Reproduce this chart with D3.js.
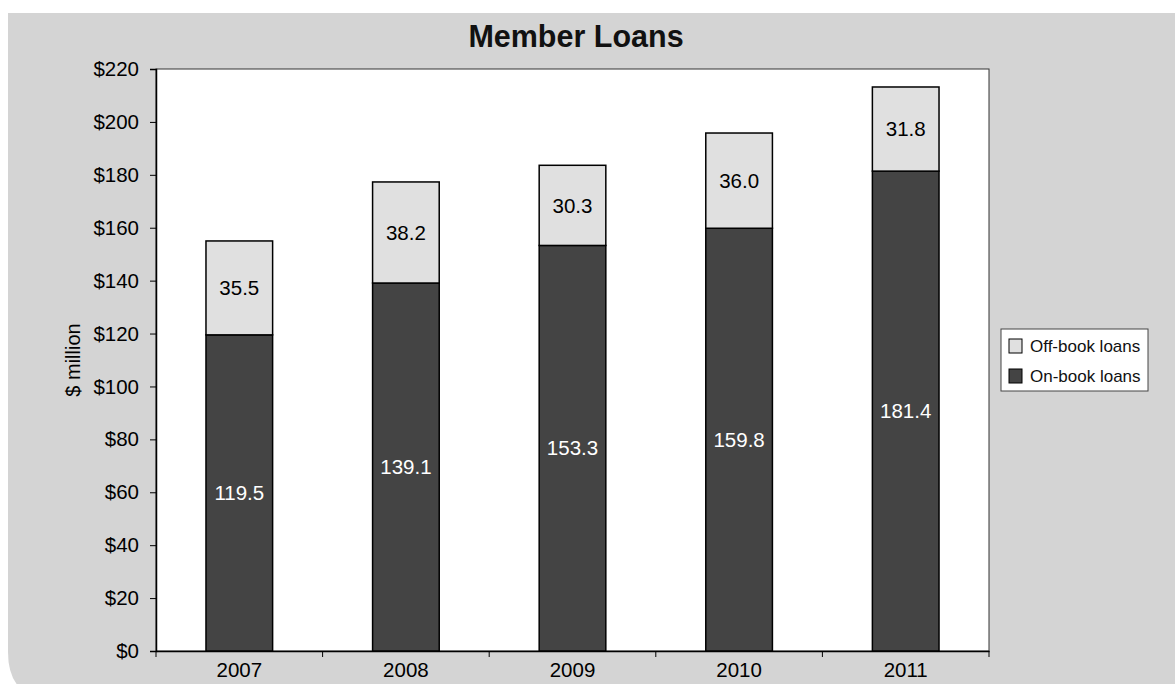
<!DOCTYPE html>
<html>
<head>
<meta charset="utf-8">
<script src="https://cdn.jsdelivr.net/npm/d3@7"></script>
<style>
  body { margin: 0; background: #fff; }
  svg { display: block; font-family: "Liberation Sans", Arial, Helvetica, sans-serif; }
</style>
</head>
<body>
<div id="chart"></div>
<script>
// data
var years = ["2007", "2008", "2009", "2010", "2011"];
var onBook = [119.5, 139.1, 153.3, 159.8, 181.4];
var offBook = [35.5, 38.2, 30.3, 36.0, 31.8];
var yTicks = [0, 20, 40, 60, 80, 100, 120, 140, 160, 180, 200, 220];
var seriesNames = ["Off-book loans", "On-book loans"];

var W = 1175, H = 684;
var plot = {left: 156, right: 989, top: 69, bottom: 651};
var fs = 20.5;

var svg = d3.select("#chart").append("svg")
  .attr("width", W).attr("height", H);

// grey panel, square top-left, rounded top-right and bottom-left
var px0 = 8, py0 = 13, px1 = 1215, py1 = 700, rTR = 32, rBL = 48;
svg.append("path")
  .attr("d", "M" + px0 + "," + py0 +
    " L" + (px1 - rTR) + "," + py0 +
    " Q" + px1 + "," + py0 + " " + px1 + "," + (py0 + rTR) +
    " L" + px1 + "," + py1 +
    " L" + (px0 + rBL) + "," + py1 +
    " Q" + px0 + "," + py1 + " " + px0 + "," + (py1 - rBL) + " Z")
  .attr("fill", "#d4d4d4");

// plot area
svg.append("rect")
  .attr("x", plot.left).attr("y", plot.top)
  .attr("width", plot.right - plot.left).attr("height", plot.bottom - plot.top)
  .attr("fill", "#fff").attr("stroke", "#333").attr("stroke-width", 1);

var x = d3.scaleBand()
  .domain(years)
  .range([plot.left, plot.right])
  .paddingInner(0.6)
  .paddingOuter(0.3);

var y = d3.scaleLinear()
  .domain([0, 220])
  .range([plot.bottom, plot.top]);

// title
svg.append("text")
  .attr("x", 576)
  .attr("y", 47)
  .attr("text-anchor", "middle")
  .attr("font-size", 30.5)
  .attr("font-weight", "bold")
  .attr("fill", "#111")
  .text("Member Loans");

// y axis
var yAxis = svg.append("g")
  .attr("transform", "translate(" + plot.left + ",0)")
  .call(d3.axisLeft(y).tickValues(yTicks).tickSize(6).tickPadding(11)
    .tickFormat(function(d) { return "$" + d; }));
yAxis.select(".domain").attr("stroke", "#000").attr("stroke-width", 1.5);
yAxis.selectAll(".tick line").attr("stroke", "#000");
yAxis.selectAll(".tick text").attr("font-size", fs).attr("fill", "#000")
  .attr("font-family", "Liberation Sans, Arial, sans-serif");

svg.append("text")
  .attr("transform", "translate(73," + ((plot.top + plot.bottom) / 2) + ") rotate(-90)")
  .attr("text-anchor", "middle")
  .attr("dy", "0.35em")
  .attr("font-size", 20)
  .attr("fill", "#000")
  .text("$ million");

// x axis: labels centred, tick marks at category boundaries
var xAxis = svg.append("g")
  .attr("transform", "translate(0," + plot.bottom + ")")
  .call(d3.axisBottom(x).tickSize(0).tickPadding(11));
xAxis.select(".domain").attr("stroke", "#000").attr("stroke-width", 1.5);
xAxis.selectAll(".tick text").attr("font-size", fs).attr("fill", "#000")
  .attr("font-family", "Liberation Sans, Arial, sans-serif");

var step = x.step();
var bounds = years.map(function(d) { return x(d) - step * 0.3; });
bounds.push(x(years[years.length - 1]) + x.bandwidth() + step * 0.3);
svg.append("g").selectAll("line")
  .data(bounds)
  .enter().append("line")
  .attr("x1", function(d) { return d; })
  .attr("x2", function(d) { return d; })
  .attr("y1", plot.bottom)
  .attr("y2", plot.bottom + 6)
  .attr("stroke", "#000");

// bars
var rows = years.map(function(yr, i) {
  return {year: yr, on: onBook[i], off: offBook[i]};
});

var colOn = "#444444", colOff = "#e0e0e0";

var g = svg.append("g");
g.selectAll(".on")
  .data(rows)
  .enter().append("rect")
  .attr("class", "on")
  .attr("x", function(d) { return x(d.year); })
  .attr("y", function(d) { return y(d.on); })
  .attr("width", x.bandwidth())
  .attr("height", function(d) { return y(0) - y(d.on); })
  .attr("fill", colOn)
  .attr("stroke", "#000").attr("stroke-width", 1.5);

g.selectAll(".off")
  .data(rows)
  .enter().append("rect")
  .attr("class", "off")
  .attr("x", function(d) { return x(d.year); })
  .attr("y", function(d) { return y(d.on + d.off); })
  .attr("width", x.bandwidth())
  .attr("height", function(d) { return y(d.on) - y(d.on + d.off); })
  .attr("fill", colOff)
  .attr("stroke", "#000").attr("stroke-width", 1.5);

// value labels
g.selectAll(".lblOn")
  .data(rows)
  .enter().append("text")
  .attr("x", function(d) { return x(d.year) + x.bandwidth() / 2; })
  .attr("y", function(d) { return y(d.on / 2); })
  .attr("dy", "0.35em")
  .attr("text-anchor", "middle")
  .attr("font-size", fs)
  .attr("fill", "#fff")
  .text(function(d) { return d.on.toFixed(1); });

g.selectAll(".lblOff")
  .data(rows)
  .enter().append("text")
  .attr("x", function(d) { return x(d.year) + x.bandwidth() / 2; })
  .attr("y", function(d) { return y(d.on + d.off / 2); })
  .attr("dy", "0.35em")
  .attr("text-anchor", "middle")
  .attr("font-size", fs)
  .attr("fill", "#000")
  .text(function(d) { return d.off.toFixed(1); });

// legend
var leg = svg.append("g").attr("transform", "translate(1001,329)");
leg.append("rect")
  .attr("width", 147).attr("height", 62)
  .attr("fill", "#fff").attr("stroke", "#444").attr("stroke-width", 1);
var legCols = [colOff, colOn];
seriesNames.forEach(function(name, i) {
  leg.append("rect")
    .attr("x", 8).attr("y", 10 + i * 30)
    .attr("width", 13).attr("height", 14)
    .attr("fill", legCols[i]).attr("stroke", "#000");
  leg.append("text")
    .attr("x", 29).attr("y", 17 + i * 30)
    .attr("dy", "0.35em")
    .attr("font-size", 17)
    .attr("fill", "#111")
    .text(name);
});
</script>
</body>
</html>
